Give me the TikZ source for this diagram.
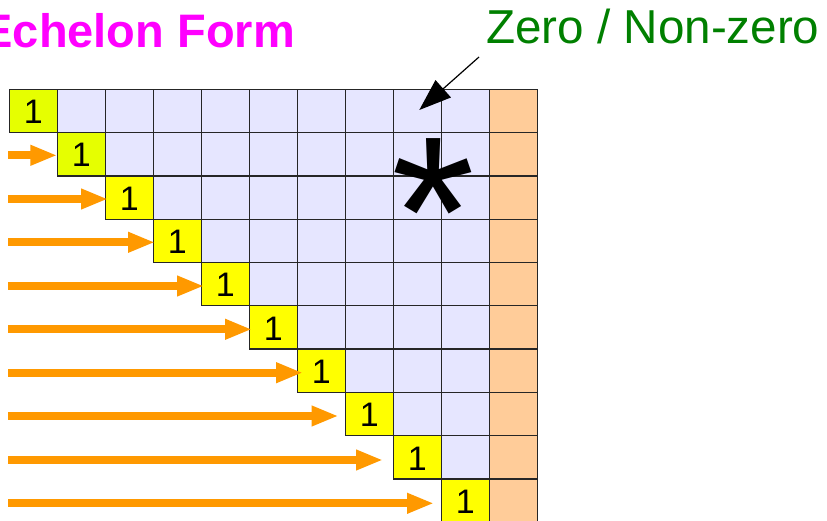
\documentclass[tikz,border=0pt]{standalone}
\usepackage{fontspec}
\setmainfont{Liberation Sans}
\usetikzlibrary{arrows.meta}
\definecolor{lav}{HTML}{E6E6FF}
\definecolor{aug}{HTML}{FFCC99}
\definecolor{piv}{HTML}{FFFF00}
\definecolor{pivg}{HTML}{E6FF00}
\definecolor{arr}{HTML}{FF9900}
\definecolor{ttl}{HTML}{FF00FF}
\definecolor{grn}{HTML}{008000}
\begin{document}
\begin{tikzpicture}[x=1pt,y=-1pt,
  cell/.style={draw=black!85, line width=1.3pt, minimum width=48pt, minimum height=43.3pt, inner sep=0pt, outer sep=0pt},
  onetxt/.style={inner sep=0pt, font=\fontsize{34}{34}\selectfont},
  oarrow/.style={draw=arr, line width=8pt, -{Triangle[length=27pt,width=19pt]}},
  callout/.style={draw=black, line width=1.2pt, -{Triangle[length=32pt,width=23pt]}}]
\useasboundingbox (0,0) rectangle (827,521);
\fill[white] (0,0) rectangle (827,521);
% cells
\foreach \r in {1,...,10}{
  \foreach \c in {\r,...,11}{
    \ifnum\c=11 \def\fc{aug}\else\ifnum\c=\r \ifnum\r<3 \def\fc{pivg}\else\def\fc{piv}\fi\else\def\fc{lav}\fi\fi
    \node[cell, fill=\fc] (c-\r-\c) at ({48*\c-14.7},{43.3*\r+67.65}) {};
  }
}
\foreach \r in {1,...,10}{
  \node[onetxt] (one-\r) at ([yshift=-1pt]c-\r-\r.center) {1};
}
% orange arrows
\foreach \r/\tx/\ty in {2/57.3/155.3, 3/108/199, 4/155/242.3, 5/204/286, 6/252/329.3, 7/303/372.7, 8/338.5/416, 9/383/460, 10/434/503.3}{
  \coordinate (s-\r) at (8.3,\ty);
  \coordinate (t-\r) at (\tx,\ty);
  \draw[oarrow] (s-\r) -- (t-\r);
}
% title
\node[anchor=base west, inner sep=0pt, font=\bfseries\fontsize{47}{47}\selectfont, text=ttl] (title) at (-18.6,47.7) {Echelon Form};
% label
\node[anchor=base west, inner sep=0pt, font=\fontsize{47.6}{47.6}\selectfont, text=grn] (zlabel) at (486,43.5) {Zero / Non-zero};
\coordinate (cs) at (479,57);
\coordinate (ct) at (419.3,110);
\draw[callout] (cs) -- (ct);
% asterisk
\node[anchor=base, inner sep=0pt, font=\fontsize{215}{215}\selectfont] (ast) at (433.5,286.5) {*};
\end{tikzpicture}
\end{document}
